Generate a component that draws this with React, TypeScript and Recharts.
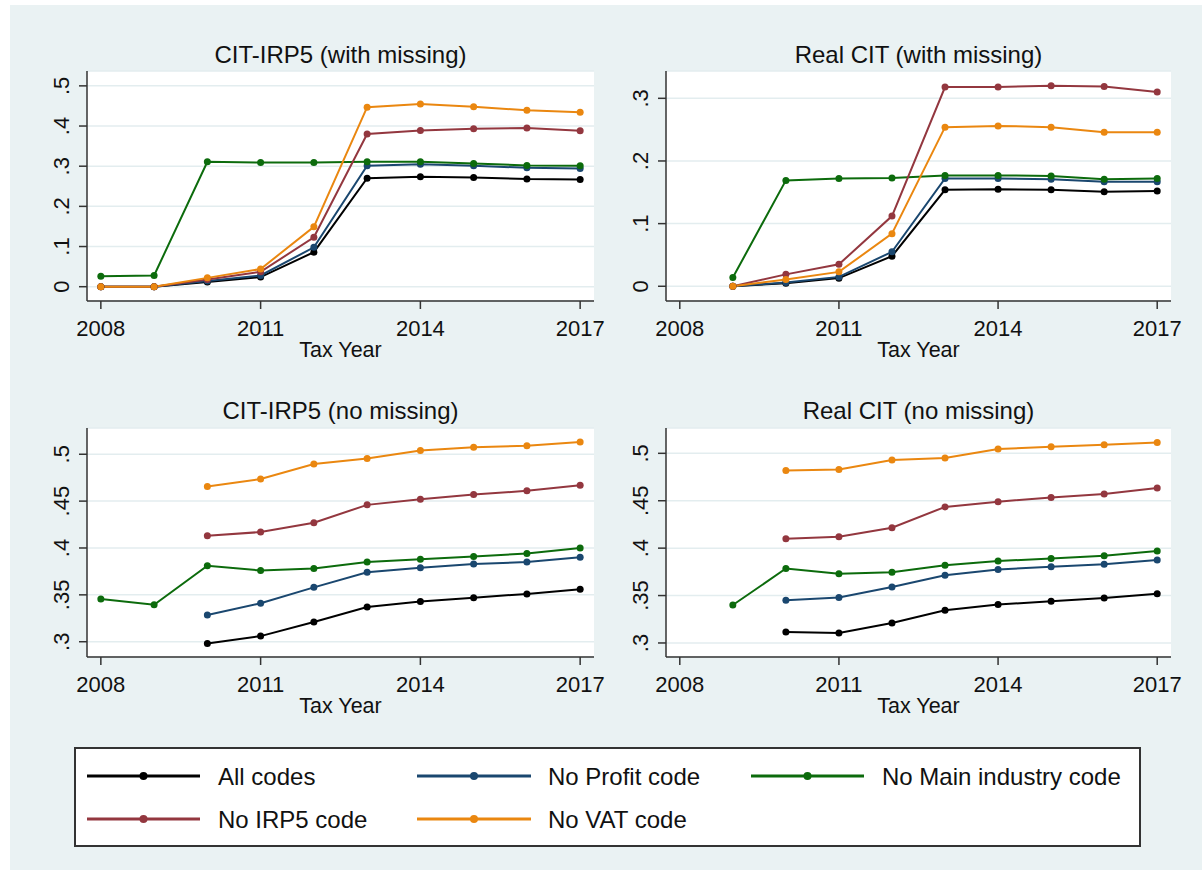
import React from "react";
import { LineChart, Line, XAxis, YAxis, CartesianGrid } from "recharts";

const years = [2008, 2009, 2010, 2011, 2012, 2013, 2014, 2015, 2016, 2017];
const xTicks = [2008, 2011, 2014, 2017];

const seriesNames = ["All codes", "No Profit code", "No Main industry code", "No IRP5 code", "No VAT code"];
const seriesKeys = ["all", "profit", "main", "irp5", "vat"];
const seriesColors = ["#000000", "#1a476f", "#0c6b0c", "#93373f", "#ea8710"];

// CIT-IRP5 (with missing)
const p1All = [0, 0, 0.012, 0.024, 0.086, 0.27, 0.274, 0.272, 0.268, 0.267];
const p1Profit = [0, 0, 0.014, 0.028, 0.098, 0.301, 0.305, 0.301, 0.296, 0.294];
const p1Main = [0.026, 0.028, 0.311, 0.309, 0.309, 0.311, 0.311, 0.307, 0.302, 0.301];
const p1Irp5 = [0, 0, 0.018, 0.037, 0.123, 0.38, 0.389, 0.393, 0.395, 0.388];
const p1Vat = [0, 0, 0.022, 0.044, 0.149, 0.447, 0.455, 0.448, 0.439, 0.434];

// Real CIT (with missing)
const p2All = [null, 0, 0.005, 0.013, 0.048, 0.154, 0.155, 0.154, 0.151, 0.152];
const p2Profit = [null, 0, 0.006, 0.015, 0.055, 0.172, 0.172, 0.171, 0.167, 0.167];
const p2Main = [null, 0.014, 0.169, 0.172, 0.173, 0.177, 0.177, 0.176, 0.171, 0.172];
const p2Irp5 = [null, 0, 0.019, 0.035, 0.112, 0.318, 0.318, 0.32, 0.319, 0.31];
const p2Vat = [null, 0, 0.011, 0.023, 0.084, 0.254, 0.256, 0.254, 0.246, 0.246];

// CIT-IRP5 (no missing)
const p3All = [null, null, 0.298, 0.306, 0.321, 0.337, 0.343, 0.347, 0.351, 0.356];
const p3Profit = [null, null, 0.3285, 0.341, 0.358, 0.374, 0.379, 0.383, 0.385, 0.39];
const p3Main = [0.3455, 0.3395, 0.381, 0.376, 0.378, 0.385, 0.388, 0.391, 0.394, 0.4];
const p3Irp5 = [null, null, 0.413, 0.417, 0.427, 0.446, 0.452, 0.457, 0.461, 0.467];
const p3Vat = [null, null, 0.4655, 0.4735, 0.4895, 0.4955, 0.504, 0.5075, 0.509, 0.513];

// Real CIT (no missing)
const p4All = [null, null, 0.3115, 0.3105, 0.321, 0.3345, 0.3405, 0.344, 0.3475, 0.352];
const p4Profit = [null, null, 0.345, 0.348, 0.359, 0.3715, 0.3775, 0.3805, 0.383, 0.3875];
const p4Main = [null, 0.34, 0.3785, 0.373, 0.3745, 0.382, 0.3865, 0.389, 0.392, 0.397];
const p4Irp5 = [null, null, 0.41, 0.412, 0.4215, 0.4435, 0.449, 0.4535, 0.457, 0.4635];
const p4Vat = [null, null, 0.482, 0.483, 0.493, 0.495, 0.5045, 0.507, 0.509, 0.5115];

const p1Ticks = [0, 0.1, 0.2, 0.3, 0.4, 0.5];
const p2Ticks = [0, 0.1, 0.2, 0.3];
const p34Ticks = [0.3, 0.35, 0.4, 0.45, 0.5];

function buildRows(arrs: (number | null)[][]) {
  return years.map((y, i) => {
    const row: any = { year: y };
    seriesKeys.forEach((k, j) => {
      row[k] = arrs[j][i];
    });
    return row;
  });
}

const FONT = "'Liberation Sans', Arial, Helvetica, sans-serif";
const AXIS = "#333333";
const BG = "#eaf2f3";

function fmt(v: number) {
  if (v === 0) return "0";
  return String(+v.toFixed(2)).replace(/^0\./, ".");
}

const XTick = (props: any) => {
  const { x, y, payload } = props;
  return (
    <text x={x} y={y + 27} textAnchor="middle" fontSize={22} fontFamily={FONT} fill="#111">
      {payload.value}
    </text>
  );
};

const YTick = (props: any) => {
  const { x, y, payload } = props;
  const bx = x - 10;
  return (
    <text
      x={bx}
      y={y}
      textAnchor="middle"
      fontSize={22}
      fontFamily={FONT}
      fill="#111"
      transform={`rotate(-90, ${bx}, ${y})`}
    >
      {fmt(payload.value)}
    </text>
  );
};

const ML = 80;
const MT = 60;
const MB = 80;
const MR = 20;

type PanelProps = {
  plotLeft: number;
  plotTop: number;
  plotW: number;
  plotH: number;
  yDomain: [number, number];
  yTicks: number[];
  rows: any[];
};

function Panel({ plotLeft, plotTop, plotW, plotH, yDomain, yTicks, rows }: PanelProps) {
  return (
    <div style={{ position: "absolute", left: plotLeft - ML, top: plotTop - MT }}>
      <LineChart
        width={plotW + ML + MR}
        height={plotH + MT + MB}
        data={rows}
        margin={{ top: MT, right: MR, bottom: 0, left: 0 }}
      >
        <CartesianGrid vertical={false} fill="#ffffff" stroke="#e3edef" strokeWidth={1.5} />
        <XAxis
          dataKey="year"
          type="number"
          domain={[2007.74, 2017.26]}
          ticks={xTicks}
          allowDataOverflow
          height={MB}
          tickSize={8}
          tickMargin={0}
          stroke={AXIS}
          axisLine={{ stroke: AXIS, strokeWidth: 1.5 }}
          tickLine={{ stroke: AXIS, strokeWidth: 1.5 }}
          tick={<XTick />}
          label={{
            content: (p: any) => {
              const vb = p.viewBox || {};
              return (
                <text
                  x={vb.x + vb.width / 2}
                  y={vb.y + 56}
                  textAnchor="middle"
                  fontSize={21.5}
                  fontFamily={FONT}
                  fill="#111"
                >
                  Tax Year
                </text>
              );
            },
          }}
        />
        <YAxis
          type="number"
          domain={yDomain}
          ticks={yTicks}
          allowDataOverflow
          width={ML}
          tickSize={8}
          tickMargin={0}
          stroke={AXIS}
          axisLine={{ stroke: AXIS, strokeWidth: 1.5 }}
          tickLine={{ stroke: AXIS, strokeWidth: 1.5 }}
          tick={<YTick />}
        />
        {seriesKeys.map((k, i) => (
          <Line
            key={k}
            type="linear"
            dataKey={k}
            stroke={seriesColors[i]}
            strokeWidth={2}
            dot={{ r: 3.5, fill: seriesColors[i], stroke: seriesColors[i], strokeWidth: 0 }}
            activeDot={false}
            isAnimationActive={false}
          />
        ))}
      </LineChart>
    </div>
  );
}

const titles = ["CIT-IRP5 (with missing)", "Real CIT (with missing)", "CIT-IRP5 (no missing)", "Real CIT (no missing)"];

export default function App() {
  const rows1 = buildRows([p1All, p1Profit, p1Main, p1Irp5, p1Vat]);
  const rows2 = buildRows([p2All, p2Profit, p2Main, p2Irp5, p2Vat]);
  const rows3 = buildRows([p3All, p3Profit, p3Main, p3Irp5, p3Vat]);
  const rows4 = buildRows([p4All, p4Profit, p4Main, p4Irp5, p4Vat]);

  const legendCols = [
    { lx1: 87, lx2: 200, tx: 218 },
    { lx1: 417, lx2: 531, tx: 548 },
    { lx1: 751, lx2: 864, tx: 882 },
  ];
  const legendRows = [776, 819];

  return (
    <div style={{ position: "absolute", left: 0, top: 0, width: 1202, height: 870, background: "#fff", overflow: "hidden" }}>
      <svg width={1202} height={870} style={{ position: "absolute", left: 0, top: 0 }}>
        <rect x={10} y={5} width={1192} height={865} fill={BG} />
        <text x={340.5} y={63} textAnchor="middle" fontSize={24} fontFamily={FONT} fill="#111">{titles[0]}</text>
        <text x={918.5} y={63} textAnchor="middle" fontSize={24} fontFamily={FONT} fill="#111">{titles[1]}</text>
        <text x={340.5} y={419} textAnchor="middle" fontSize={24} fontFamily={FONT} fill="#111">{titles[2]}</text>
        <text x={918.5} y={419} textAnchor="middle" fontSize={24} fontFamily={FONT} fill="#111">{titles[3]}</text>
        <rect x={75} y={748} width={1065} height={98} fill="#fff" stroke="#333" strokeWidth={2} />
        {seriesNames.map((name, i) => {
          const col = legendCols[i % 3];
          const cy = legendRows[Math.floor(i / 3)];
          const c = seriesColors[i];
          return (
            <g key={name}>
              <line x1={col.lx1} x2={col.lx2} y1={cy} y2={cy} stroke={c} strokeWidth={3} />
              <circle cx={(col.lx1 + col.lx2) / 2} cy={cy} r={4} fill={c} />
              <text x={col.tx} y={cy + 9} fontSize={24} fontFamily={FONT} fill="#111">{name}</text>
            </g>
          );
        })}
      </svg>
      <Panel plotLeft={87} plotTop={71} plotW={507} plotH={230} yDomain={[-0.0356, 0.537]} yTicks={p1Ticks} rows={rows1} />
      <Panel plotLeft={666} plotTop={71} plotW={505} plotH={230} yDomain={[-0.0235, 0.3436]} yTicks={p2Ticks} rows={rows2} />
      <Panel plotLeft={87} plotTop={428} plotW={507} plotH={229} yDomain={[0.2837, 0.528]} yTicks={p34Ticks} rows={rows3} />
      <Panel plotLeft={666} plotTop={428} plotW={505} plotH={229} yDomain={[0.2852, 0.5267]} yTicks={p34Ticks} rows={rows4} />
    </div>
  );
}
